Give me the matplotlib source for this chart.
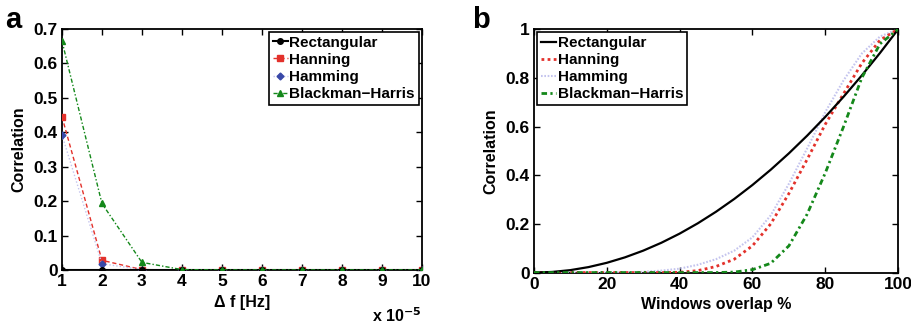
import matplotlib
matplotlib.use("Agg")
import matplotlib.pyplot as plt

plt.rcParams['font.family'] = ['Liberation Sans', 'DejaVu Sans']
plt.rcParams['font.weight'] = 'bold'
plt.rcParams['mathtext.default'] = 'bf'

# ---- Panel a data (delta f in units of 1e-5 Hz) ----
df_vals = [1, 2, 3, 4, 5, 6, 7, 8, 9, 10]
a_rect = [0, 0, 0, 0, 0, 0, 0, 0, 0, 0]
a_hann = [0.445, 0.028, 0.001, 0, 0, 0, 0, 0, 0, 0]
a_hamm = [0.392, 0.018, 0.001, 0, 0, 0, 0, 0, 0, 0]
a_bh = [0.665, 0.193, 0.022, 0.001, 0, 0, 0, 0, 0, 0]
a_xticks = [1, 2, 3, 4, 5, 6, 7, 8, 9, 10]
a_yticks = [0, 0.1, 0.2, 0.3, 0.4, 0.5, 0.6, 0.7]

# ---- Panel b data (overlap %) ----
overlap = [0, 5, 10, 15, 20, 25, 30, 35, 40, 45, 50, 55, 60, 65, 70, 75, 80, 85, 90, 95, 100]
b_rect = [0, 0.0025, 0.01, 0.0225, 0.04, 0.0625, 0.09, 0.1225, 0.16, 0.2025, 0.25,
          0.3025, 0.36, 0.4225, 0.49, 0.5625, 0.64, 0.7225, 0.81, 0.9025, 1.0]
b_hann = [0, 0, 0, 0, 0, 0, 0, 0, 0.001, 0.008, 0.025, 0.055, 0.11, 0.2, 0.325,
          0.465, 0.61, 0.735, 0.86, 0.955, 1.0]
b_hamm = [0, 0, 0, 0, 0, 0.001, 0.003, 0.008, 0.016, 0.032, 0.055, 0.09, 0.145, 0.235,
          0.365, 0.51, 0.66, 0.79, 0.9, 0.97, 1.0]
b_bh = [0, 0, 0, 0, 0, 0, 0, 0, 0, 0, 0, 0.002, 0.012, 0.038, 0.11, 0.24, 0.41,
        0.6, 0.8, 0.94, 1.0]
b_xticks = [0, 20, 40, 60, 80, 100]
b_yticks = [0, 0.2, 0.4, 0.6, 0.8, 1]

labels = ['Rectangular', 'Hanning', 'Hamming', 'Blackman\u2212Harris']

RED = '#e3312b'
GREEN = '#14881a'
LAV = '#c4c4ee'
BLUE = '#3848a8'

fig = plt.figure(figsize=(9.11, 3.28), dpi=100)
axa = fig.add_axes([0.068, 0.177, 0.395, 0.735])
axb = fig.add_axes([0.586, 0.169, 0.400, 0.742])

TFS = 12.5   # tick labels
LFS = 11.5   # axis labels
GFS = 11     # legend

def style(ax):
    for s in ax.spines.values():
        s.set_linewidth(1.3)
    ax.tick_params(direction='in', top=True, right=True, length=4, width=1,
                   labelsize=TFS, pad=3)
    for lab in ax.get_xticklabels() + ax.get_yticklabels():
        lab.set_fontweight('bold')

def legend(ax, loc):
    lg = ax.legend(loc=loc, fontsize=GFS, frameon=True, fancybox=False,
                   handlelength=1.0, handletextpad=0.1, borderpad=0.25, labelspacing=0.2,
                   borderaxespad=0.2, edgecolor='black', framealpha=1)
    lg.get_frame().set_linewidth(1.2)
    for t in lg.get_texts():
        t.set_fontweight('bold')

# Panel a
axa.plot(df_vals, a_rect, color='black', lw=1.5, marker='o', ms=4, label=labels[0], zorder=5)
axa.plot(df_vals, a_hann, color=RED, lw=1, ls=(0, (3, 2)), marker='s', ms=4,
         label=labels[1], zorder=3)
axa.plot(df_vals, a_hamm, color=LAV, lw=1, ls=(0, (1, 1.5)), marker='D', ms=3.5,
         mfc=BLUE, mec=BLUE, label=labels[2], zorder=4)
axa.plot(df_vals, a_bh, color=GREEN, lw=1, ls=(0, (3, 1.5, 1, 1.5)), marker='^', ms=5,
         label=labels[3], zorder=6)
axa.set_xlim(1, 10)
axa.set_ylim(0, 0.7)
axa.set_xticks(a_xticks)
axa.set_yticks(a_yticks)
axa.set_yticklabels(['0' if v == 0 else f'{v:.1f}' for v in a_yticks])
axa.set_xlabel('\u0394 f [Hz]', fontsize=LFS, fontweight='bold', labelpad=4)
axa.set_ylabel('Correlation', fontsize=LFS, fontweight='bold', labelpad=5)
style(axa)
legend(axa, 'upper right')
fig.text(0.463, 0.008, r'x 10$^{-5}$', ha='right', va='bottom', fontsize=LFS,
         fontweight='bold')

# Panel b
axb.plot(overlap, b_rect, color='black', lw=1.6, label=labels[0], zorder=5)
axb.plot(overlap, b_hann, color=RED, lw=2, ls=(0, (1, 1.2)), label=labels[1],
         dash_capstyle='butt', zorder=4)
axb.plot(overlap, b_hamm, color=LAV, lw=1.5, ls=(0, (0.8, 0.8)), label=labels[2],
         dash_capstyle='butt', zorder=3)
axb.plot(overlap, b_bh, color=GREEN, lw=2, ls=(0, (2, 1.2, 0.8, 1.2)), label=labels[3],
         dash_capstyle='butt', zorder=6)
axb.set_xlim(0, 100)
axb.set_ylim(0, 1)
axb.set_xticks(b_xticks)
axb.set_yticks(b_yticks)
axb.set_yticklabels(['0', '0.2', '0.4', '0.6', '0.8', '1'])
axb.set_xlabel('Windows overlap %', fontsize=LFS, fontweight='bold', labelpad=4)
axb.set_ylabel('Correlation', fontsize=LFS, fontweight='bold', labelpad=5)
style(axb)
legend(axb, 'upper left')

fig.text(0.006, 0.94, 'a', fontsize=21, fontweight='bold', ha='left', va='center')
fig.text(0.518, 0.94, 'b', fontsize=21, fontweight='bold', ha='left', va='center')

fig.savefig('out.png', dpi=100)
